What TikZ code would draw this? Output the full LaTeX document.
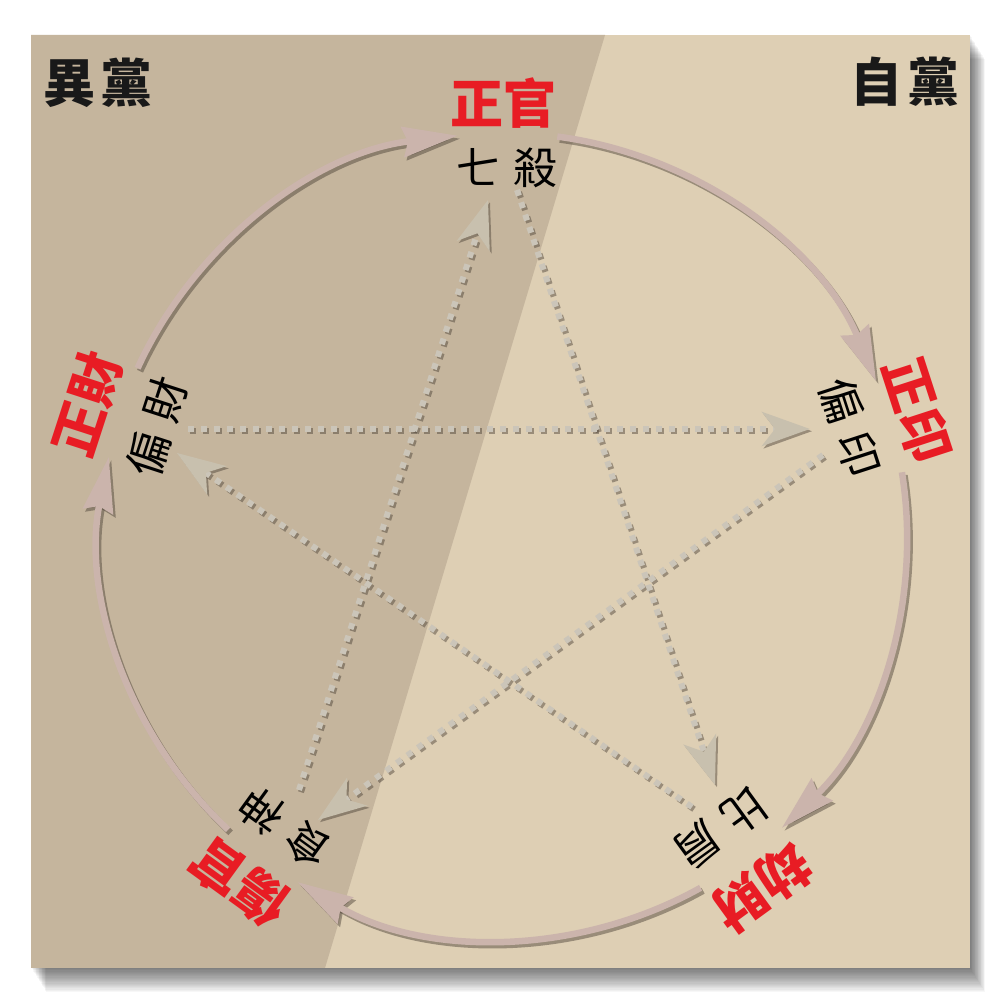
\documentclass[tikz,border=0pt]{standalone}
\usepackage{fontspec}
\newfontfamily\cjk{Noto Sans CJK TC}
\usetikzlibrary{arrows.meta,calc}
\definecolor{lightbg}{RGB}{222,207,180}
\definecolor{darkbg}{RGB}{197,181,157}
\definecolor{arcc}{RGB}{203,180,172}
\definecolor{dotc}{RGB}{203,197,185}
\definecolor{headc}{RGB}{200,192,174}
\definecolor{redc}{RGB}{232,28,36}
\definecolor{shc}{RGB}{70,60,50}
\newcommand\lbl[5]{\node[#4, rotate=#3] (#1) at #2 {#5};}
\begin{document}
\begin{tikzpicture}[x=1pt,y=1pt,
  outer/.style={inner sep=0pt, font=\cjk\bfseries\fontsize{53}{53}\selectfont, text=redc},
  innerlbl/.style={inner sep=0pt, font=\cjk\fontsize{44}{44}\selectfont, text=black},
  corner/.style={inner sep=0pt, font=\cjk\bfseries\fontsize{52}{52}\selectfont, text=black!90},
  arcline/.style={draw=arcc, line width=6.5pt, -{Stealth[length=55pt,width=30pt,inset=5pt]}},
  arcshadow/.style={draw=shc, opacity=.45, line width=6.5pt, -{Stealth[length=55pt,width=30pt,inset=5pt]}},
  dotline/.style={draw=dotc, line width=6pt, dash pattern=on 6pt off 7pt, -{Stealth[length=48pt,width=34pt,inset=13pt,color=headc]}},
  dotshadow/.style={draw=shc, opacity=.45, line width=6pt, dash pattern=on 6pt off 7pt, -{Stealth[length=48pt,width=34pt,inset=13pt]}},
]
\useasboundingbox (0,0) rectangle (1004,1004);
\fill[white] (0,0) rectangle (1004,1004);
% panel shadow
\foreach \k in {1,...,20}
  \fill[black, opacity=0.03] ($(31,36)+(0.75*\k,-1.2*\k)$) rectangle ($(970,969)+(0.75*\k,-1.2*\k)$);
% panel
\fill[lightbg] (31,36) rectangle (970,969);
\fill[darkbg] (31,36) -- (325,36) -- (605,969) -- (31,969) -- cycle;

% circle arcs
\coordinate (O) at (504,468);
\foreach \s/\e/\n in {155.4/96.6/a1, 82.4/22.6/a2, 9.1/-46.4/a3, -60.8/-120.8/a4, -133.2/-191.3/a5} {
  \coordinate (\n) at ($(O)+(\s:403)$);
  \draw[arcshadow] ($(\n)+(2.5,-3)$) arc[start angle=\s, end angle=\e, radius=403];
}
\foreach \s/\e/\n in {155.4/96.6/a1, 82.4/22.6/a2, 9.1/-46.4/a3, -60.8/-120.8/a4, -133.2/-191.3/a5} {
  \draw[arcline] (\n) arc[start angle=\s, end angle=\e, radius=403];
}

% dotted star
\coordinate (d1a) at (188,575); \coordinate (d1b) at (810,575);
\coordinate (d2a) at (299,214); \coordinate (d2b) at (488,804);
\coordinate (d3a) at (517,814); \coordinate (d3b) at (715,219);
\coordinate (d4a) at (692,197); \coordinate (d4b) at (177,551);
\coordinate (d5a) at (823,549); \coordinate (d5b) at (318,184);
\foreach \a/\b in {d1a/d1b, d2a/d2b, d3a/d3b, d4a/d4b, d5a/d5b}
  \draw[dotshadow] ($(\a)+(2,-2.2)$) -- ($(\b)+(2,-2.2)$);
\foreach \a/\b in {d1a/d1b, d2a/d2b, d3a/d3b, d4a/d4b, d5a/d5b}
  \draw[dotline] (\a) -- (\b);

% labels
\lbl{gc}{(503,901)}{0}{outer}{正官}
\lbl{qs}{(507,836)}{0}{innerlbl}{七\hspace{13pt}殺}
\lbl{zy}{(917,594)}{-72}{outer}{正印}
\lbl{py}{(850,577)}{-72}{innerlbl}{偏\hspace{13pt}印}
\lbl{jc}{(762,116)}{-144}{outer}{劫財}
\lbl{bj}{(721,176)}{-144}{innerlbl}{比\hspace{13pt}肩}
\lbl{sg}{(240,121)}{144}{outer}{傷官}
\lbl{ss}{(285,176)}{144}{innerlbl}{食\hspace{13pt}神}
\lbl{zc}{(87,600)}{72}{outer}{正財}
\lbl{pc}{(157,577)}{72}{innerlbl}{偏\hspace{13pt}財}
\lbl{yd}{(98,921)}{0}{corner}{異\hspace{6pt}黨}
\lbl{zd}{(905,922)}{0}{corner}{自\hspace{6pt}黨}
\end{tikzpicture}
\end{document}
